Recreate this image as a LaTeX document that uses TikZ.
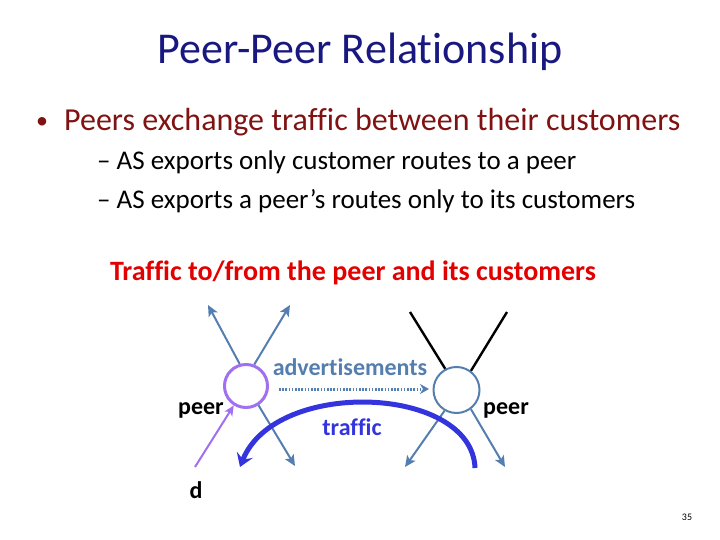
\documentclass[tikz,border=0pt]{standalone}
\usepackage{fontspec}
\setmainfont[Ligatures={NoCommon}]{Carlito}
\usetikzlibrary{arrows.meta}
\definecolor{navy}{RGB}{24,24,128}
\definecolor{dkred}{RGB}{128,18,18}
\definecolor{hired}{RGB}{226,0,0}
\definecolor{steel}{RGB}{84,126,176}
\definecolor{purp}{RGB}{160,112,240}
\definecolor{trblue}{RGB}{52,52,222}
\tikzset{
  fs/.style={font=\fontsize{#1}{#1}\selectfont},
  fsb/.style={font=\fontsize{#1}{#1}\selectfont\bfseries},
  txt/.style={inner sep=0pt, anchor=base west},
  asnode/.style={circle, minimum size=44pt, inner sep=0pt},
  custarrow/.style={draw=steel, line width=2pt, -{Stealth[length=11pt,width=10pt,inset=2.5pt]}},
  provline/.style={draw=black, line width=2.4pt},
}
\begin{document}
\begin{tikzpicture}[x=1pt,y=-1pt]
\useasboundingbox (0,0) rectangle (720,540);
% title
\node[fs=44, text=navy, inner sep=0pt] (title) at (360,52) {Peer-Peer Relationship};
% bullets
\node[txt, fs=24, text=dkred] (b0) at (36,129) {•};
\node[txt, fs=32, text=dkred] (b1) at (64,131) {Peers exchange traffic between their customers};
\node[txt, fs=27] (s1) at (97,170) {– AS exports only customer routes to a peer};
\node[txt, fs=27] (s2) at (97,209) {– AS exports a peer’s routes only to its customers};
\node[fsb=28, text=hired, inner sep=0pt] (red) at (353,273) {Traffic to/from the peer and its customers};
% AS nodes
\node[asnode, draw=purp, line width=3pt, minimum size=43pt] (L) at (246,386) {};
\node[asnode, draw=steel, line width=2pt, minimum size=46pt] (R) at (456.5,390) {};
% free ends
\coordinate (lul) at (208,305);
\coordinate (lur) at (290,305);
\coordinate (ldr) at (295,466);
\coordinate (rul) at (410,312);
\coordinate (rur) at (507,312);
\coordinate (rdl) at (405,467);
\coordinate (rdr) at (505,467);
\coordinate (dstart) at (195,467);
\coordinate (advs) at (279,389);
\coordinate (adve) at (429,389);
\coordinate (trs) at (475,468);
\coordinate (tre) at (240,467);
% connectors
\draw[custarrow] (L.106) -- (lul);
\draw[custarrow] (L.69) -- (lur);
\draw[custarrow] (L.-57) -- (ldr);
\draw[provline] (R.118) -- (rul);
\draw[provline] (R.53) -- (rur);
\draw[custarrow] (R.-120) -- (rdl);
\draw[custarrow] (R.-53) -- (rdr);
\draw[draw=purp, line width=2pt, -{Stealth[length=10pt,width=9pt,inset=2.5pt]}] (dstart) -- (L);
\draw[draw=steel, line width=3pt, dash pattern=on 1.6pt off 1.6pt, -{Stealth[length=9pt,width=10pt,inset=3pt]}] (advs) -- (adve);
\draw[draw=trblue, line width=5pt, -{Stealth[length=13pt,width=17pt,inset=5pt]}] (trs) .. controls (472,385) and (275,378) .. (tre);
% labels
\node[fsb=24, text=steel, inner sep=0pt] (advlbl) at (350,367) {advertisements};
\node[fsb=24, text=trblue, inner sep=0pt] (trlbl) at (352,427) {traffic};
\node[fsb=24, inner sep=0pt] (lpeer) at (201,410) {peer};
\node[fsb=24, inner sep=0pt] (rpeer) at (506,410) {peer};
\node[fsb=24, inner sep=0pt] (dlbl) at (196,490) {d};
\node[fs=10, inner sep=0pt] (pg) at (687,517) {35};
\end{tikzpicture}
\end{document}
